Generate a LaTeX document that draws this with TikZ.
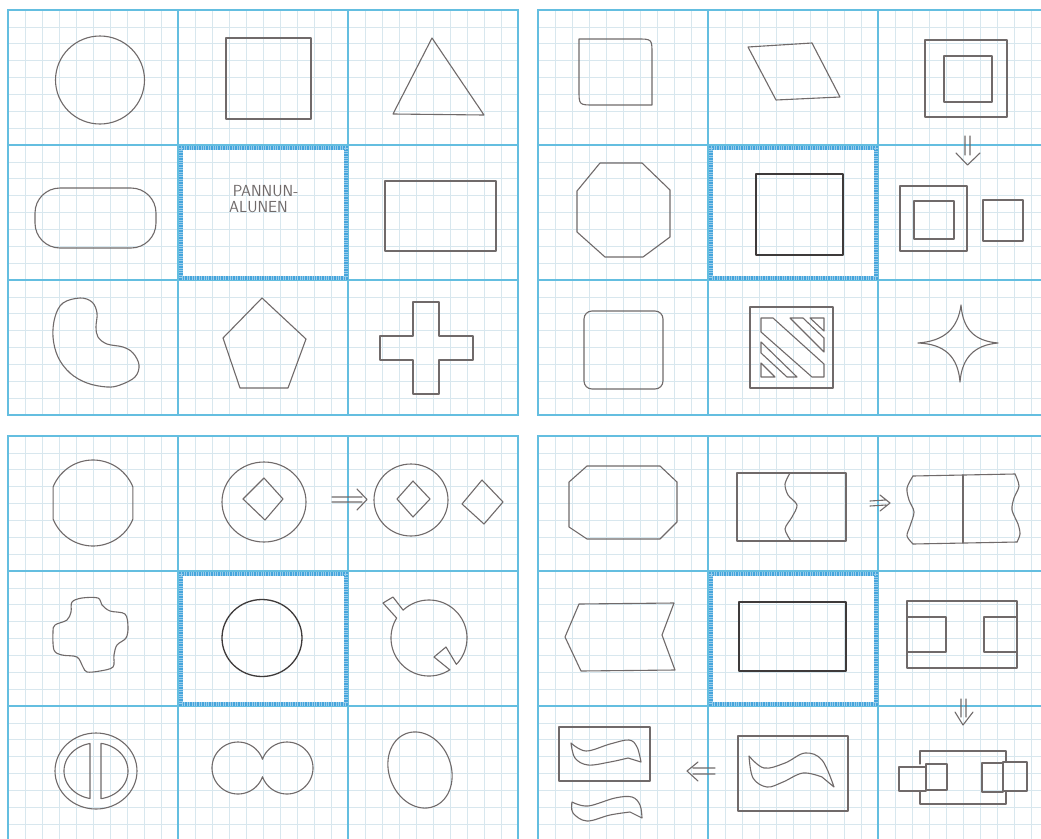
\documentclass[tikz,border=0pt]{standalone}
\usetikzlibrary{calc}
\definecolor{fineg}{RGB}{216,231,238}
\definecolor{majb}{RGB}{100,190,224}
\definecolor{hlb}{RGB}{70,165,220}
\definecolor{inkc}{RGB}{112,106,106}
\definecolor{darkinkc}{RGB}{62,58,58}
\tikzset{
 fine/.style={draw=fineg, line width=0.55},
 major/.style={draw=majb, line width=1.2},
 hlbox/.style={draw=hlb, line width=4},
 hltex/.style={draw=white, line width=4, dash pattern=on 0.8 off 1.6, opacity=0.45},
 pen/.style={draw=inkc, line width=1.1, line join=round, line cap=round},
 dpen/.style={draw=darkinkc, line width=1.3, line join=round, line cap=round},
 lbl/.style={text=inkc, font=\sffamily\fontsize{16}{19}\selectfont, inner sep=0pt},
}
\newcommand\gridpanel[2]{%
 \foreach \i in {1,...,29}{\draw[fine] ({#1+17*\i},#2) -- ({#1+17*\i},{#2+405});}
 \foreach \j in {1,...,23}{\draw[fine] (#1,{#2+16.875*\j}) -- ({#1+510},{#2+16.875*\j});}
 \foreach \k in {1,2}{\draw[major] ({#1+170*\k},#2) -- ({#1+170*\k},{#2+405});
   \draw[major] (#1,{#2+135*\k}) -- ({#1+510},{#2+135*\k});}
 \draw[major] (#1,#2) rectangle ({#1+510},{#2+405});
 \draw[hlbox] ({#1+172.5},{#2+137.5}) rectangle ({#1+338},{#2+268});
 \draw[hltex] ({#1+172.5},{#2+137.5}) rectangle ({#1+338},{#2+268});
}
\begin{document}
\begin{tikzpicture}[x=1pt,y=-1pt]
\useasboundingbox (0,0) rectangle (1041,838);
\fill[white] (0,0) rectangle (1041,838);
\clip (0,0) rectangle (1041,838);
\gridpanel{8}{10}
\gridpanel{538}{10}
\gridpanel{8}{436}
\gridpanel{538}{436}

% ---------------- top-left panel
\draw[pen] (100,80) ellipse [x radius=44.5, y radius=44];
\draw[pen] (226,38) rectangle (311,119);
\draw[pen] (432,38) -- (484,115) -- (393,114) -- cycle;
\draw[pen, rounded corners=25] (35,188) rectangle (156,248);
\node[lbl] (t1) at (265.5,191) {PANNUN-};
\node[lbl] (t2) at (258.5,207) {ALUNEN};
\draw[pen] (385,181) rectangle (496,251);
\draw[pen] plot[smooth cycle, tension=0.6] coordinates {(80,298) (92,302) (97,313) (96,327) (98,337) (107,344) (123,347) (133,353) (139,365) (135,377) (120,385) (107,387) (87,383) (70,373) (58,357) (53,337) (55,317) (63,303)};
\draw[pen] (262,298) -- (306,339) -- (288,388) -- (240,388) -- (223,338) -- cycle;
\draw[pen] (413,302) -- (439,302) -- (439,336) -- (473,336) -- (473,360) -- (439,360) -- (439,394) -- (413,394) -- (413,360) -- (380,360) -- (380,336) -- (413,336) -- cycle;

% ---------------- top-right panel
\draw[pen] (579,39) -- (637,39) .. controls (652,39) .. (652,54) -- (652,105) -- (594,105) .. controls (579,105) .. (579,90) -- cycle;
\draw[pen] (748,47) -- (812,43) -- (840,97) -- (776,100) -- cycle;
\draw[pen] (925,40) rectangle (1007,117);
\draw[pen] (944,56) rectangle (992,102);
\draw[pen] (965,136) -- (965,155) (970,136) -- (970,155) (956,153) -- (967.5,165) -- (980,153);
\draw[pen] (600,163) -- (642,163) -- (670,190) -- (670,237) -- (643,257) -- (605,257) -- (577,232) -- (577,191) -- cycle;
\draw[dpen] (756,174) rectangle (843,255);
\draw[pen] (900,186) rectangle (967,251);
\draw[pen] (914,201) rectangle (954,239);
\draw[pen] (983,200) rectangle (1023,241);
\draw[pen, rounded corners=8] (584,311) rectangle (663,389);
\draw[pen] (750,307) rectangle (833,388);
\draw[pen] (810,318) -- (824,318) -- (824,331) -- cycle;
\draw[pen] (790,318) -- (803,318) -- (824,338) -- (824,352) -- cycle;
\draw[pen] (761,318) -- (773,318) -- (824,364) -- (824,377) -- (812,377) -- (761,332) -- cycle;
\draw[pen] (761,342) -- (797,377) -- (787,377) -- (761,353) -- cycle;
\draw[pen] (761,363) -- (775,377) -- (761,377) -- cycle;
\draw[pen] (961,305) .. controls (963,330) and (975,341) .. (998,343)
  .. controls (975,345) and (962,357) .. (960,382)
  .. controls (958,357) and (945,344) .. (918,343)
  .. controls (945,341) and (958,328) .. (961,305) -- cycle;

% ---------------- bottom-left panel
\draw[pen] plot[domain=201.8:338.2, samples=40] ({93+43*cos(\x)},{503+43*sin(\x)})
  -- plot[domain=21.8:158.2, samples=40] ({93+43*cos(\x)},{503+43*sin(\x)}) -- cycle;
\draw[pen] (264,502) ellipse [x radius=42, y radius=40];
\draw[pen] (264,478) -- (283,499) -- (265,520) -- (243,499) -- cycle;
\draw[pen] (332,497) -- (362,497) (332,502) -- (362,502) (357,489) -- (367,499.5) -- (357,510);
\draw[pen] (411,500) ellipse [x radius=37, y radius=36];
\draw[pen] (413,481) -- (430,499) -- (413,517) -- (397,499) -- cycle;
\draw[pen] (482,480) -- (503,502) -- (484,524) -- (462,504) -- cycle;
\draw[pen] plot[smooth cycle, tension=0.55] coordinates {(72,602) (82,598) (98,598) (102,605) (110,611) (125,614) (128,627) (126,638) (117,645) (114,655) (113,667) (100,671) (87,672) (83,667) (77,657) (62,655) (54,650) (53,632) (55,625) (67,620) (71,612)};
\draw[dpen] (262,638) ellipse [x radius=40, y radius=38.5];
\draw[pen] plot[domain=-132.9:43.9, samples=50] ({429+38*cos(\x)},{638+38*sin(\x)})
  -- (446,647) -- (434,657) -- (450,670)
  -- plot[domain=56.7:211.7, samples=50] ({429+38*cos(\x)},{638+38*sin(\x)})
  -- (383,603) -- (393,597) -- cycle;
\draw[pen] (96,771) ellipse [x radius=41, y radius=38];
\draw[pen] plot[domain=100.8:259.2, samples=40] ({96+32*cos(\x)},{771+28*sin(\x)}) -- cycle;
\draw[pen] plot[domain=-81:81, samples=40] ({96+32*cos(\x)},{771+28*sin(\x)}) -- cycle;
\draw[pen] plot[domain=19.6:340.4, samples=60] ({238+26*cos(\x)},{768+26*sin(\x)})
  -- plot[domain=199.6:520.4, samples=60] ({287+26*cos(\x)},{768+26*sin(\x)}) -- cycle;
\draw[pen, rotate around={21:(420,770)}] (420,770) ellipse [x radius=31, y radius=39];

% ---------------- bottom-right panel
\draw[pen] (587,466) -- (660,466) -- (677,482) -- (677,522) -- (660,539) -- (587,539) -- (569,527) -- (569,482) -- cycle;
\draw[pen] (737,473) rectangle (846,541);
\draw[pen] plot[smooth] coordinates {(790,473) (785,484) (788,495) (797,505) (792,517) (785,529) (791,541)};
\draw[pen] (870,501) -- (886,500) (870,506) -- (886,505) (880,495) -- (890,503) -- (880,511);
\draw[pen] (913,476) -- (1015,474);
\draw[pen] (913,544) -- (1017,542);
\draw[pen] plot[smooth] coordinates {(913,476) (907,488) (909,500) (914,512) (910,526) (907,536) (913,544)};
\draw[pen] plot[smooth] coordinates {(1015,474) (1019,486) (1014,498) (1012,510) (1018,524) (1020,534) (1017,542)};
\draw[pen] (963,475) -- (963,543);
\draw[pen] (579,604) -- (674,603) -- (662,635) -- (675,670) -- (581,671) -- (565,637) -- cycle;
\draw[dpen] (739,602) rectangle (846,671);
\draw[pen] (907,601) rectangle (1017,668);
\draw[pen] (907,617) rectangle (946,652);
\draw[pen] (984,617) rectangle (1017,652);
\draw[pen] (961,699) -- (961,717) (966,699) -- (966,717) (955,712) -- (963,725) -- (973,712);
\draw[pen] (920,764) -- (920,751) -- (1006,751) -- (1006,762);
\draw[pen] (920,791) -- (920,804) -- (1006,804) -- (1006,792);
\draw[pen] (899,767) rectangle (926,791);
\draw[pen] (926,764) rectangle (947,790);
\draw[pen] (982,763) rectangle (1003,792);
\draw[pen] (1003,762) rectangle (1027,791);
\draw[pen] (738,736) rectangle (848,811);
\draw[pen] plot[smooth, tension=0.6] coordinates {(749,756) (764,768) (785,763) (805,753) (822,760) (834,787)}
  -- plot[smooth, tension=0.6] coordinates {(822,777) (803,773) (783,782) (767,787) (753,778) (749,756)};
\draw[pen] (715,768) -- (693,768) (715,774) -- (693,774) (698,762) -- (687,771) -- (698,781);
\draw[pen] (559,727) rectangle (650,781);
\draw[pen] plot[smooth, tension=0.6] coordinates {(571,743) (586,751) (610,744) (629,740) (637,747) (641,762)}
  -- plot[smooth, tension=0.6] coordinates {(628,758) (610,762) (588,765) (575,758) (571,743)};
\draw[pen] plot[smooth, tension=0.6] coordinates {(572,802) (588,806) (615,798) (632,797) (640,805) (642,818)}
  -- plot[smooth, tension=0.6] coordinates {(630,812) (610,815) (587,821) (573,813) (572,802)};
\end{tikzpicture}
\end{document}
